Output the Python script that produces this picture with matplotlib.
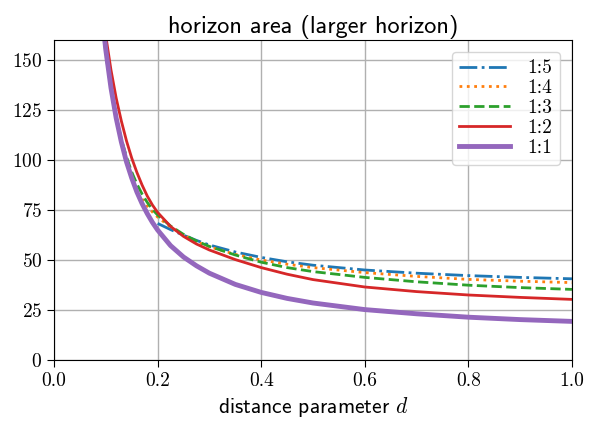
import matplotlib
matplotlib.use("Agg")
import matplotlib.pyplot as plt

plt.rcParams['mathtext.fontset'] = 'cm'
plt.rcParams['axes.formatter.use_mathtext'] = True

# distance parameter grid
d = [0.095, 0.1, 0.11, 0.12, 0.13, 0.14, 0.15, 0.16, 0.17, 0.18, 0.19, 0.2,
     0.225, 0.25, 0.275, 0.3, 0.35, 0.4, 0.45, 0.5, 0.6, 0.7, 0.8, 0.9, 1.0]

area_11 = [167, 155, 136, 121, 109, 99, 91, 84, 78.2, 73.2, 68.8, 65,
           57.2, 51.5, 47.1, 43.4, 37.8, 33.8, 30.8, 28.5, 25.2, 23.1, 21.4, 20.2, 19.3]
area_12 = [172, 162, 145, 131, 119.5, 109.5, 101, 93.8, 87.5, 82, 77.5, 73.8,
           66.8, 61.8, 58, 55, 50.2, 46.2, 42.9, 40.2, 36.5, 34.2, 32.5, 31.3, 30.3]
area_13 = [166, 153, 135.5, 121.5, 110.5, 101.5, 94, 88, 83, 78.8, 75.3, 72.5,
           67, 62.8, 59.5, 56.8, 52.5, 48.9, 46.2, 44.2, 41.3, 39.1, 37.4, 36.2, 35.3]

d_14 = [0.17, 0.18, 0.19, 0.2, 0.225, 0.25, 0.275, 0.3, 0.35, 0.4, 0.45,
        0.5, 0.6, 0.7, 0.8, 0.9, 1.0]
area_14 = [80.5, 77, 74, 71.5, 66.5, 62.5, 59.2, 56.6, 52.8, 50, 47.9,
           46.2, 43.7, 41.8, 40.3, 39.4, 38.7]

d_15 = [0.2, 0.225, 0.25, 0.275, 0.3, 0.35, 0.4, 0.45, 0.5, 0.6, 0.7,
        0.8, 0.9, 1.0]
area_15 = [68.3, 65.2, 62.4, 59.8, 57.5, 54, 51.3, 49.1, 47.4, 45, 43.4,
           42.2, 41.3, 40.6]

fig = plt.figure(figsize=(5.89, 4.21), dpi=100)
ax = fig.add_axes([0.0917, 0.1449, 0.8794, 0.7601])

ax.plot(d_15, area_15, '-.', color='#1f77b4', lw=2, label='1:5')
ax.plot(d_14, area_14, ':', color='#ff7f0e', lw=2, label='1:4')
ax.plot(d, area_13, '--', color='#2ca02c', lw=2, label='1:3')
ax.plot(d, area_12, '-', color='#d62728', lw=2, label='1:2')
ax.plot(d, area_11, '-', color='#9467bd', lw=3.5, label='1:1')

ax.set_xlim(0, 1)
ax.set_ylim(0, 160)
ax.set_xticks([0, 0.2, 0.4, 0.6, 0.8, 1.0])
ax.set_yticks([0, 25, 50, 75, 100, 125, 150])
ax.set_xticklabels(['0.0', '0.2', '0.4', '0.6', '0.8', '1.0'])
ax.tick_params(labelsize=14, labelfontfamily='cmr10', length=5)
ax.grid(True, color='#b0b0b0', lw=1.0)

ax.set_title('horizon area (larger horizon)', family='cmss10', fontsize=17.5,
             pad=5)
ax.set_xlabel('distance parameter $d$', family='cmss10', fontsize=15.5)

leg = ax.legend(loc='upper right', prop={'family': 'cmr10', 'size': 14},
                handlelength=2.6, handletextpad=0.9, labelspacing=0.1,
                borderaxespad=0.6)

fig.savefig('out.png', dpi=100)
